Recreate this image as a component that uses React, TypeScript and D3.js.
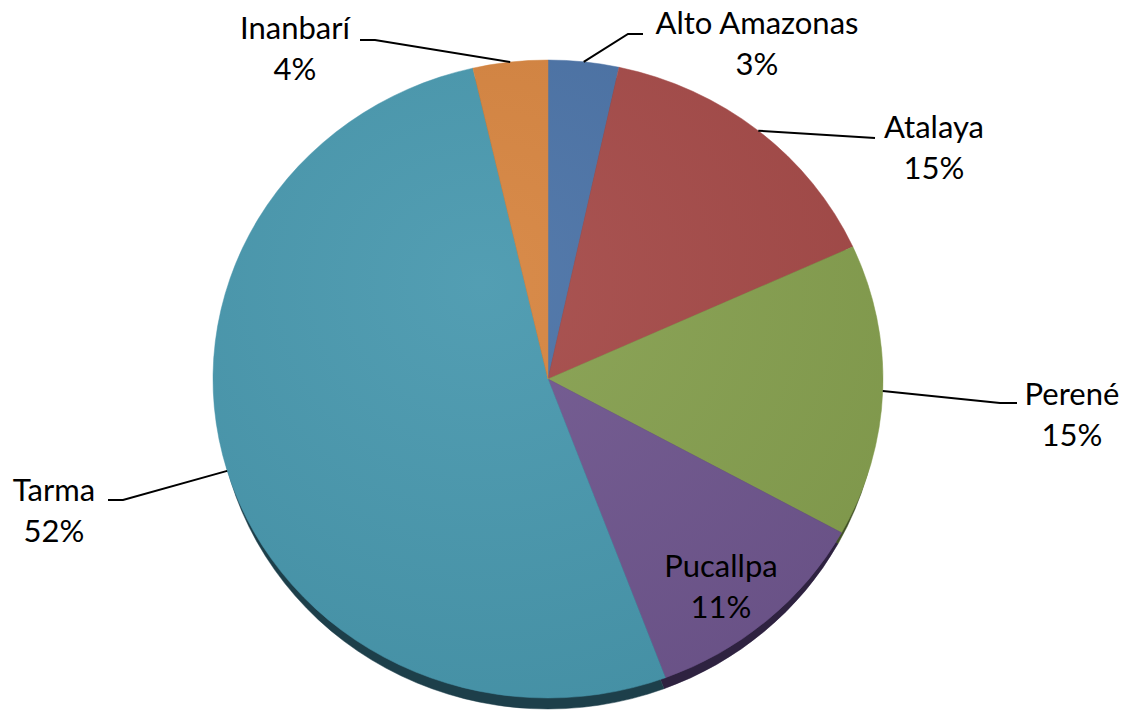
import React from "react";
import * as d3 from "d3";

const categories = ["Alto Amazonas", "Atalaya", "Perené", "Pucallpa", "Tarma", "Inanbarí"];
const values = [3.4, 14.8, 14.8, 11.3, 52.1, 3.6];
const percentLabels = ["3%", "15%", "15%", "11%", "52%", "4%"];

const faceColors = ["#4A72A6", "#A54A48", "#86A04F", "#6F568E", "#4898AE", "#D6843F"];
const rimColors = ["#233a58", "#4e2322", "#405026", "#2e2240", "#1d3f4a", "#6a3f1c"];

// label layout: leader elbow, leader end, text centre and baselines
const labelLayout: Record<string, { elbow?: [number, number]; end?: [number, number]; tx: number; ty: number }> = {
  "Alto Amazonas": { elbow: [628, 34], end: [643, 34], tx: 757, ty: 34 },
  "Atalaya": { elbow: [875, 138], end: [875, 138], tx: 934, ty: 138 },
  "Perené": { elbow: [1000, 403], end: [1017, 403], tx: 1072, ty: 405 },
  "Pucallpa": { tx: 721, ty: 577 },
  "Tarma": { elbow: [123, 500], end: [108, 500], tx: 54, ty: 501 },
  "Inanbarí": { elbow: [375, 40], end: [360, 40], tx: 295, ty: 39 },
};

const W = 1136;
const H = 713;
const cx = 548;
const cy = 379;
const rx = 335;
const ry = 319;
const depth = 11;
const rimRx = 331;
const lineGap = 41;

export default function App() {
  const pie = d3.pie<number>().sort(null).value((d) => d);
  const arcs = pie(values);
  const arc = d3.arc<d3.PieArcDatum<number>>().innerRadius(0).outerRadius(rx);
  const sy = ry / rx;

  return (
    <svg
      width={W}
      height={H}
      style={{ position: "absolute", left: 0, top: 0, background: "#fff" }}
      fontFamily="Lato, 'Open Sans', sans-serif"
    >
      <defs>
        <radialGradient id="shade" cx="0.4" cy="0.35" r="0.75">
          <stop offset="0" stopColor="#fff" stopOpacity={0.06} />
          <stop offset="1" stopColor="#000" stopOpacity={0.06} />
        </radialGradient>
      </defs>
      <g transform={`translate(${cx},${cy + depth}) scale(${rimRx / rx},${sy})`}>
        {arcs.map((a, i) => (
          <path key={"r" + i} d={arc(a) || ""} fill={rimColors[i]} stroke={rimColors[i]} strokeWidth={0.5} />
        ))}
      </g>
      <g transform={`translate(${cx},${cy}) scale(1,${sy})`}>
        {arcs.map((a, i) => (
          <path key={"f" + i} d={arc(a) || ""} fill={faceColors[i]} stroke={faceColors[i]} strokeWidth={0.5} />
        ))}
        <ellipse cx={0} cy={0} rx={rx} ry={rx} fill="url(#shade)" />
      </g>
      {arcs.map((a, i) => {
        const name = categories[i];
        const L = labelLayout[name];
        const mid = (a.startAngle + a.endAngle) / 2;
        const sx = cx + rx * Math.sin(mid);
        const syy = cy - ry * Math.cos(mid);
        return (
          <g key={"l" + i}>
            {L.elbow && L.end && (
              <polyline
                points={`${sx},${syy} ${L.elbow[0]},${L.elbow[1]} ${L.end[0]},${L.end[1]}`}
                fill="none"
                stroke="#000"
                strokeWidth={2}
              />
            )}
            <text x={L.tx} y={L.ty} textAnchor="middle" fontSize={31} fill="#000">
              {name}
            </text>
            <text x={L.tx} y={L.ty + lineGap} textAnchor="middle" fontSize={31} fill="#000">
              {percentLabels[i]}
            </text>
          </g>
        );
      })}
    </svg>
  );
}
